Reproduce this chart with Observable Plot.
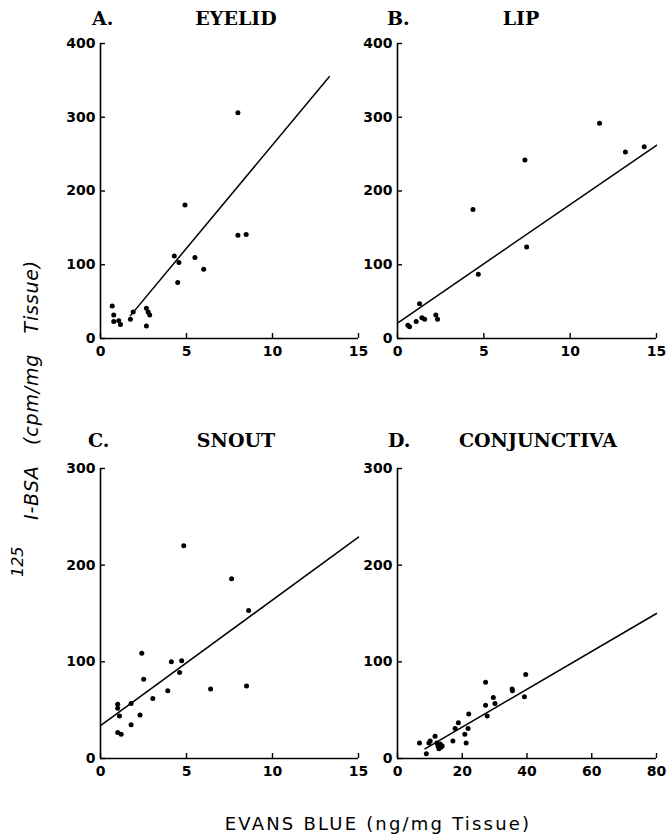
<!DOCTYPE html>
<html><head><meta charset="utf-8">
<script src="https://cdn.jsdelivr.net/npm/d3@7"></script>
<script src="https://cdn.jsdelivr.net/npm/@observablehq/plot@0.6"></script>
<style>
body{margin:0;background:#fff}
#root{position:relative;width:668px;height:837px;overflow:hidden;background:#fff}
.panel{position:absolute}
.panel text{font-family:"DejaVu Sans" !important;font-size:14px !important;font-weight:bold !important;fill:#000 !important}
svg.lbl{position:absolute;left:0;top:0}
</style>
</head><body><div id="root"></div>
<script>
// ---- data ----
const eyelidX = [0.68,0.77,0.77,1.06,1.16,1.74,1.9,2.67,2.67,2.77,2.86,4.29,4.49,4.56,4.91,5.49,6.0,7.99,7.99,8.47];
const eyelidY = [44,32,23,24,19,26,36,17,41,36,32,112,76,103,181,110,94,306,140,141];
const eyelidLineX = [1.74, 13.3];
const eyelidLineY = [31, 355];

const lipX = [0.6,0.7,1.08,1.28,1.41,1.57,2.22,2.32,4.37,4.68,7.38,7.48,11.7,13.2,14.29];
const lipY = [18,16,23,47,28,26,32,26,175,87,242,124,292,253,260];
const lipLineX = [0, 15];
const lipLineY = [21, 262];

const snoutX = [1.0,1.0,1.1,1.0,1.2,1.78,1.78,2.3,2.4,2.51,3.04,3.91,4.12,4.6,4.72,4.84,6.4,7.62,8.49,8.61];
const snoutY = [56,52,44,27,25,57,35,45,109,82,62,70,100,89,101,220,72,186,75,153];
const snoutLineX = [0, 15];
const snoutLineY = [34, 229];

const conjX = [6.8,8.9,9.7,10.1,11.6,12.2,12.5,13.0,13.5,13.2,12.8,13.8,17.1,17.8,18.8,20.8,21.2,21.8,22,27.2,27.2,27.7,29.6,30.1,35.4,35.5,39.2,39.6];
const conjY = [16,5,16,18,23,16,13,11,12,15,10,13,18,31,37,25,16,31,46,55,79,44,63,57,72,70,64,87];
const conjLineX = [8.5, 80];
const conjLineY = [10, 150];

const ticksX15 = [0,5,10,15];
const ticksX80 = [0,20,40,60,80];
const ticksY400 = [0,100,200,300,400];
const ticksY300 = [0,100,200,300];

const panelLetters = ["A.","B.","C.","D."];
const panelNames = ["EYELID","LIP","SNOUT","CONJUNCTIVA"];
const xTitle = "EVANS BLUE (ng/mg Tissue)";
const yTitleIso = "125";
const yTitle = "I-BSA   (cpm/mg   Tissue)";

// ---- drawing ----
const root = document.getElementById("root");

function panel(o) {
  const pts = o.x.map((v,i)=>({x:v, y:o.y[i]}));
  const fit = o.lx.map((v,i)=>({x:v, y:o.ly[i]}));
  const pw = o.width - o.mL - o.mR, ph = o.height - o.mT - o.mB;
  const svg = Plot.plot({
    width: o.width, height: o.height,
    marginLeft: o.mL, marginRight: o.mR, marginTop: o.mT, marginBottom: o.mB,
    style: {background:"transparent", color:"black", fontFamily:"DejaVu Sans", fontSize:"14px", overflow:"visible"},
    x: {domain: o.xDomain, ticks: o.xTicks, tickSize: 0, tickPadding: 8, label: null},
    y: {domain: o.yDomain, ticks: o.yTicks, tickSize: 0, tickPadding: 5, label: null},
    marks: [
      Plot.ruleX([o.xDomain[0]], {strokeWidth: 1.6}),
      Plot.ruleY([o.yDomain[0]], {strokeWidth: 1.6}),
      Plot.tickY(o.yTicks, {y: d=>d, insetRight: pw-5, strokeWidth: 1.4, stroke: "black"}),
      Plot.tickX(o.xTicks, {x: d=>d, insetTop: ph-5, strokeWidth: 1.4, stroke: "black"}),
      Plot.line(fit, {x:"x", y:"y", strokeWidth: 1.5}),
      Plot.dot(pts, {x:"x", y:"y", r: 2.5, fill: "black"})
    ]
  });
  svg.classList.add("panel");
  svg.style.left = o.left + "px";
  svg.style.top = o.top + "px";
  root.appendChild(svg);
}

panel({x:eyelidX, y:eyelidY, lx:eyelidLineX, ly:eyelidLineY, xDomain:[0,15], yDomain:[0,400], xTicks:ticksX15, yTicks:ticksY400,
  left:0, top:0, width:372, height:365, mL:100, mR:14, mT:43, mB:27});
panel({x:lipX, y:lipY, lx:lipLineX, ly:lipLineY, xDomain:[0,15], yDomain:[0,400], xTicks:ticksX15, yTicks:ticksY400,
  left:340, top:0, width:328, height:365, mL:57, mR:12, mT:43, mB:27});
panel({x:snoutX, y:snoutY, lx:snoutLineX, ly:snoutLineY, xDomain:[0,15], yDomain:[0,300], xTicks:ticksX15, yTicks:ticksY300,
  left:0, top:420, width:372, height:365, mL:100, mR:14, mT:48, mB:27});
panel({x:conjX, y:conjY, lx:conjLineX, ly:conjLineY, xDomain:[0,80], yDomain:[0,300], xTicks:ticksX80, yTicks:ticksY300,
  left:340, top:420, width:328, height:365, mL:57, mR:12, mT:48, mB:27});

// ---- titles and axis labels ----
const ns = "http://www.w3.org/2000/svg";
const lbl = document.createElementNS(ns, "svg");
lbl.setAttribute("class","lbl");
lbl.setAttribute("width", 668);
lbl.setAttribute("height", 837);
root.appendChild(lbl);
function txt(s, attrs) {
  const t = document.createElementNS(ns, "text");
  for (const k in attrs) t.setAttribute(k, attrs[k]);
  t.textContent = s;
  lbl.appendChild(t);
  return t;
}
const letterPos = [[92,25],[387,25],[88,447],[388,447]];
const namePos = [[236,25],[521,25],[236,447],[538,447]];
panelLetters.forEach((s,i)=>txt(s, {x:letterPos[i][0], y:letterPos[i][1], "font-family":"DejaVu Serif", "font-weight":"bold", "font-size":19}));
panelNames.forEach((s,i)=>txt(s, {x:namePos[i][0], y:namePos[i][1], "text-anchor":"middle", "font-family":"DejaVu Serif", "font-weight":"bold", "font-size":19}));
txt(xTitle, {x:378, y:830, "text-anchor":"middle", "font-family":"DejaVu Sans", "font-size":18, "letter-spacing":2.2});
txt(yTitleIso, {transform:"translate(23,577) rotate(-90)", "font-family":"DejaVu Sans", "font-style":"italic", "font-size":16});
const yt = txt(yTitle, {transform:"translate(38,520) rotate(-90)", "font-family":"DejaVu Sans", "font-style":"italic", "font-size":19, "letter-spacing":0.8});
yt.setAttribute("xml:space","preserve");
yt.style.whiteSpace = "pre";
</script>
</body></html>
